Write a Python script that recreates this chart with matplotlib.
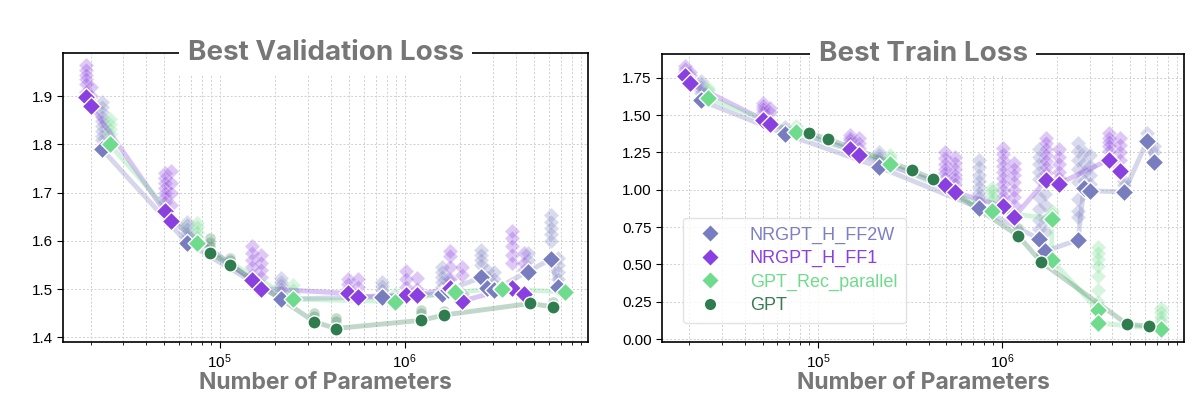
import matplotlib.pyplot as plt
from matplotlib.lines import Line2D

plt.rcParams['font.family'] = ['Liberation Sans', 'DejaVu Sans']

# parameter count of each model configuration
ff2w_params = [23100, 66500, 214500, 755000, 1590000, 1720000, 2600000, 2790000, 3030000, 4630000, 6160000, 6730000]
ff1_params = [18900, 20200, 50400, 54800, 149500, 167000, 494000, 559000, 1020000, 1165000, 1750000, 2040000, 3815000, 4400000]
rec_params = [25400, 75600, 248000, 887000, 1870000, 1870000, 3350000, 3350000, 7330000]
gpt_params = [89000, 114000, 325000, 423000, 1230000, 1635000, 4780000, 6320000]

# best validation loss per configuration
ff2w_val = [1.790, 1.596, 1.479, 1.484, 1.489, 1.498, 1.524, 1.503, 1.498, 1.536, 1.562, 1.505]
ff1_val = [1.898, 1.880, 1.661, 1.642, 1.519, 1.501, 1.491, 1.484, 1.487, 1.487, 1.502, 1.475, 1.503, 1.490]
rec_val = [1.800, 1.595, 1.479, 1.474, 1.495, 1.493, 1.502, 1.500, 1.494]
gpt_val = [1.574, 1.550, 1.432, 1.418, 1.435, 1.446, 1.470, 1.463]

# best train loss per configuration
ff2w_train = [1.598, 1.373, 1.152, 0.877, 0.672, 0.587, 0.665, 1.011, 0.993, 0.985, 1.324, 1.183]
ff1_train = [1.759, 1.714, 1.469, 1.442, 1.273, 1.234, 1.029, 0.982, 0.888, 0.817, 1.067, 1.040, 1.201, 1.123]
rec_train = [1.614, 1.386, 1.174, 0.859, 0.804, 0.527, 0.192, 0.107, 0.067]
gpt_train = [1.380, 1.340, 1.130, 1.072, 0.692, 0.516, 0.101, 0.085]

# other runs (hyperparameter sweeps), one list per configuration
ff2w_val_runs = [[1.888, 1.878, 1.868, 1.858, 1.848, 1.838, 1.828, 1.818, 1.81],
                 [1.64, 1.632, 1.624, 1.616, 1.608],
                 [1.522, 1.515, 1.508, 1.5, 1.493, 1.487],
                 [1.515, 1.507, 1.498],
                 [1.545, 1.535, 1.525, 1.515, 1.505],
                 [1.52, 1.51],
                 [1.58, 1.57, 1.56, 1.55],
                 [1.54, 1.525],
                 [1.535, 1.52, 1.51],
                 [1.575, 1.56],
                 [1.654, 1.64, 1.627, 1.615, 1.6],
                 [1.565, 1.55, 1.535, 1.52]]
ff1_val_runs = [[1.965, 1.955, 1.945, 1.935, 1.925, 1.91],
                [1.92, 1.90],
                [1.74, 1.73, 1.72, 1.71, 1.70, 1.69, 1.68],
                [1.745, 1.72, 1.70, 1.675],
                [1.59, 1.575, 1.56, 1.545, 1.53],
                [1.57, 1.555, 1.54, 1.525],
                [1.52, 1.51, 1.50],
                [1.52, 1.505],
                [1.538, 1.52, 1.505],
                [1.522, 1.5],
                [1.578, 1.568, 1.545, 1.52],
                [1.545, 1.53, 1.49],
                [1.62, 1.605, 1.59, 1.57, 1.555],
                [1.575, 1.555, 1.54]]
rec_val_runs = [[1.852, 1.842, 1.832, 1.822],
                [1.638, 1.628, 1.618, 1.608],
                [1.508, 1.498, 1.49],
                [1.49],
                [1.5], [], [1.505], [], []]
gpt_val_runs = [[1.605, 1.598, 1.59], [1.565, 1.56], [1.45, 1.443], [1.44, 1.433],
                [1.456, 1.45], [1.455], [1.478], [1.474]]

ff2w_train_runs = [[1.73, 1.71, 1.69, 1.67, 1.65],
                   [1.42, 1.40],
                   [1.25, 1.23, 1.21],
                   [1.2, 1.15, 1.10, 1.06, 1.02, 0.98, 0.95, 0.92],
                   [1.27, 1.22, 1.17, 1.12, 1.07, 0.95, 0.87, 0.8, 0.74],
                   [0.97, 0.9, 0.8, 0.72],
                   [1.31, 1.26, 1.2, 1.14, 1.05, 0.94, 0.86, 0.82],
                   [1.25, 1.18, 1.12, 1.06],
                   [1.23, 1.16, 1.1, 1.04],
                   [1.06, 1.03],
                   [1.38, 1.35],
                   [1.29, 1.25, 1.2]]
ff1_train_runs = [[1.83, 1.81, 1.79],
                  [1.79, 1.77],
                  [1.58, 1.56, 1.54, 1.52],
                  [1.55, 1.52],
                  [1.37, 1.35, 1.33, 1.31],
                  [1.35, 1.31, 1.28],
                  [1.25, 1.21, 1.17, 1.14, 1.11, 1.08, 1.05],
                  [1.22, 1.18, 1.14, 1.1, 1.07, 1.04, 1.0],
                  [1.28, 1.24, 1.2, 1.16, 1.12, 1.08, 1.04, 1.0, 0.96, 0.93],
                  [1.18, 1.14, 1.1, 1.05, 1.0, 0.95, 0.9],
                  [1.35, 1.31, 1.27, 1.23, 1.19, 1.15, 1.11],
                  [1.27, 1.22, 1.17, 1.12, 1.08],
                  [1.38, 1.35, 1.32, 1.29, 1.26],
                  [1.35, 1.3, 1.25, 1.2]]
rec_train_runs = [[1.685, 1.665],
                  [1.43, 1.41],
                  [1.23, 1.21],
                  [1.01, 0.99, 0.96, 0.93],
                  [0.86, 0.84], [],
                  [0.615, 0.575, 0.535, 0.49, 0.42, 0.33, 0.25], [],
                  [0.21, 0.18, 0.15, 0.12]]
gpt_train_runs = [[], [], [], [], [0.745], [0.57], [], []]

names = ['NRGPT_H_FF2W', 'NRGPT_H_FF1', 'GPT_Rec_parallel', 'GPT']
colors = ['#787DC0', '#8A3FE0', '#6EDC8C', '#2F7D4E']
text_colors = ['#7B7FC4', '#8A3FE0', '#6EDC8C', '#3A7A55']
markers = ['D', 'D', 'D', 'o']
params = [ff2w_params, ff1_params, rec_params, gpt_params]


def draw(ax, best, runs, title, ylim, yticks, yfmt):
    for i in range(4):
        x = params[i]
        # faint points for the other runs
        fx, fy = [], []
        for xi, r in zip(x, runs[i]):
            fx += [xi] * len(r)
            fy += r
        ax.scatter(fx, fy, marker=markers[i], s=60, color=colors[i], alpha=0.28,
                   edgecolor='white', linewidth=0.6, zorder=2)
        ax.plot(x, best[i], color=colors[i], alpha=0.3, lw=3.5, zorder=3,
                solid_capstyle='round')
    for i in range(4):
        ax.scatter(params[i], best[i], marker=markers[i], s=90, color=colors[i],
                   edgecolor='white', linewidth=1.0, zorder=4)

    ax.set_xscale('log')
    ax.set_xlim(1.42e4, 9.8e6)
    ax.set_ylim(*ylim)
    ax.set_yticks(yticks)
    ax.set_yticklabels([yfmt % v for v in yticks])
    ax.grid(True, which='major', ls=(0, (2, 2)), color='#cfcfcf', lw=0.7)
    ax.grid(True, which='minor', axis='x', ls=(0, (2, 2)), color='#cfcfcf', lw=0.7)
    ax.set_axisbelow(True)
    ax.tick_params(labelsize=11, length=4)
    ax.tick_params(which='minor', length=2.5)
    for s in ax.spines.values():
        s.set_linewidth(1.2)
    ax.set_xlabel('Number of Parameters', fontsize=16.5, fontweight='bold',
                  color='#777777', family='Inter', labelpad=1)
    ax.text(0.5, 1.0, title, transform=ax.transAxes, ha='center', va='center',
            fontsize=20, fontweight='bold', color='#777777', family='Inter',
            bbox=dict(boxstyle='square,pad=0.3', facecolor='white', edgecolor='none'),
            zorder=10, clip_on=False)


fig = plt.figure(figsize=(12, 3.93), dpi=100)
ax1 = fig.add_axes([0.0525, 0.1298, 0.4375, 0.7354])
ax2 = fig.add_axes([0.5517, 0.1298, 0.435, 0.733])

draw(ax1, [ff2w_val, ff1_val, rec_val, gpt_val],
     [ff2w_val_runs, ff1_val_runs, rec_val_runs, gpt_val_runs],
     'Best Validation Loss', (1.39, 1.99), [1.4, 1.5, 1.6, 1.7, 1.8, 1.9], '%.1f')
draw(ax2, [ff2w_train, ff1_train, rec_train, gpt_train],
     [ff2w_train_runs, ff1_train_runs, rec_train_runs, gpt_train_runs],
     'Best Train Loss', (-0.02, 1.91), [0.0, 0.25, 0.5, 0.75, 1.0, 1.25, 1.5, 1.75], '%.2f')

handles = [Line2D([], [], marker=markers[i], color=colors[i], ls='none', markersize=9,
                  markeredgecolor='white', markeredgewidth=1.0) for i in range(4)]
leg = ax2.legend(handles, names, loc='lower left', bbox_to_anchor=(0.04, 0.065),
                 borderaxespad=0, fontsize=13, frameon=True, handletextpad=1.2,
                 labelspacing=0.35, borderpad=0.5)
leg.get_frame().set_edgecolor('#dddddd')
for t, c in zip(leg.get_texts(), text_colors):
    t.set_color(c)
leg.set_zorder(20)

plt.savefig('out.png', dpi=100)
plt.close()
